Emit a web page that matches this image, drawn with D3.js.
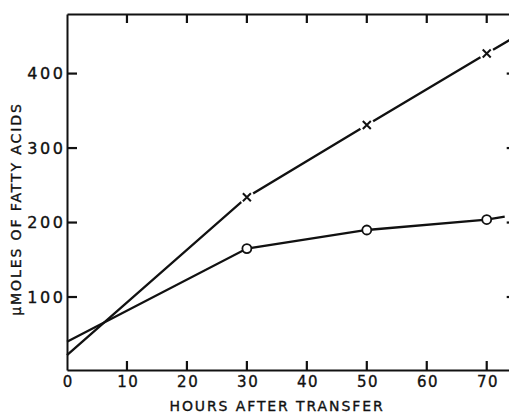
<!DOCTYPE html>
<html>
<head>
<meta charset="utf-8">
<script src="https://cdn.jsdelivr.net/npm/d3@7/dist/d3.min.js"></script>
<style>
  html, body { margin: 0; padding: 0; background: #fff; }
  svg { display: block; }
  text { font-family: "DejaVu Sans", sans-serif; fill: #111; stroke: #111; stroke-width: 0.35px; }
</style>
</head>
<body>
<svg id="chart" width="509" height="414"></svg>
<script>
// ---- data ----
const xTicks = [0, 10, 20, 30, 40, 50, 60, 70];
const yTicks = [100, 200, 300, 400];

const crossLineHours  = [0, 30, 50, 70, 74];
const crossLineValues = [22, 234, 331, 427, 446];
const circleLineHours  = [0, 30, 50, 70, 73];
const circleLineValues = [40, 165, 190, 204, 208];

const markerHours = [30, 50, 70];
const crossMarkerValues  = [234, 331, 427];
const circleMarkerValues = [165, 190, 204];

const xTitle = "HOURS AFTER TRANSFER";
const yTitle = "\u03bcMOLES OF FATTY ACIDS";

// ---- layout ----
const svg = d3.select("#chart");
const ink = "#111";

const xScale = d3.scaleLinear().domain([0, 75]).range([67, 516.7]);
const yScale = d3.scaleLinear().domain([2, 480]).range([370, 14]);

const xLeft = xScale.range()[0], xRight = xScale.range()[1];
const yBottom = yScale.range()[0], yTop = yScale.range()[1];

// inward tick marks, drawn as thin rectangles
const tickW = 2.2, tickL = 9;
const tickG = svg.append("g").attr("fill", ink);
tickG.selectAll("rect.xb").data(xTicks.filter(d => d > 0)).join("rect").attr("class", "xb")
  .attr("x", d => xScale(d) - tickW / 2).attr("y", yBottom - tickL).attr("width", tickW).attr("height", tickL);
tickG.selectAll("rect.xt").data(xTicks.filter(d => d > 0)).join("rect").attr("class", "xt")
  .attr("x", d => xScale(d) - tickW / 2).attr("y", yTop).attr("width", tickW).attr("height", tickL);
tickG.selectAll("rect.yl").data(yTicks).join("rect").attr("class", "yl")
  .attr("x", xLeft).attr("y", d => yScale(d) - tickW / 2).attr("width", tickL + 1).attr("height", tickW);
tickG.selectAll("rect.yr").data(yTicks).join("rect").attr("class", "yr")
  .attr("x", xRight - tickL - 1).attr("y", d => yScale(d) - tickW / 2).attr("width", tickL + 1).attr("height", tickW);

function styleAxis(g) {
  g.selectAll("path.domain").attr("stroke", ink).attr("stroke-width", 2);
  g.selectAll(".tick line").remove();
}

// axes (frame lines + labels)
const axBottom = svg.append("g").attr("transform", `translate(0,${yBottom})`)
  .call(d3.axisBottom(xScale).tickValues(xTicks).tickSize(0).tickPadding(6).tickFormat(d3.format("d")));
axBottom.call(styleAxis);
axBottom.selectAll("text").attr("font-size", 15).attr("letter-spacing", 1.5).attr("dx", 0.75)
  .style("font-family", "DejaVu Sans").attr("fill", ink);

const axTop = svg.append("g").attr("transform", `translate(0,${yTop})`)
  .call(d3.axisTop(xScale).tickValues([]).tickSize(0));
axTop.call(styleAxis);

const axLeft = svg.append("g").attr("transform", `translate(${xLeft},0)`)
  .call(d3.axisLeft(yScale).tickValues(yTicks).tickSize(0).tickPadding(4).tickFormat(d3.format("d")));
axLeft.call(styleAxis);
axLeft.selectAll("text").attr("font-size", 16).attr("letter-spacing", 2.6).attr("dx", 2.6)
  .style("font-family", "DejaVu Sans").attr("fill", ink);

const axRight = svg.append("g").attr("transform", `translate(${xRight},0)`)
  .call(d3.axisRight(yScale).tickValues([]).tickSize(0));
axRight.call(styleAxis);

// lines
const line = d3.line().x(d => xScale(d[0])).y(d => yScale(d[1]));

svg.append("path")
  .datum(d3.zip(crossLineHours, crossLineValues))
  .attr("d", line).attr("fill", "none").attr("stroke", ink).attr("stroke-width", 2.3);

svg.append("path")
  .datum(d3.zip(circleLineHours, circleLineValues))
  .attr("d", line).attr("fill", "none").attr("stroke", ink).attr("stroke-width", 2.3);

// cross markers: white gap then ×
const crosses = svg.append("g").selectAll("g")
  .data(d3.zip(markerHours, crossMarkerValues)).join("g")
  .attr("transform", d => `translate(${xScale(d[0])},${yScale(d[1])})`);
crosses.append("circle").attr("r", 7.5).attr("fill", "#fff");
crosses.append("path").attr("d", "M-4,-4L4,4M-4,4L4,-4")
  .attr("stroke", ink).attr("stroke-width", 2).attr("fill", "none");

// circle markers
svg.append("g").selectAll("circle")
  .data(d3.zip(markerHours, circleMarkerValues)).join("circle")
  .attr("cx", d => xScale(d[0])).attr("cy", d => yScale(d[1])).attr("r", 4.5)
  .attr("fill", "#fff").attr("stroke", ink).attr("stroke-width", 1.8);

// titles
svg.append("text")
  .attr("x", 277).attr("y", 411)
  .attr("text-anchor", "middle").attr("font-size", 14).attr("letter-spacing", 1.9)
  .text(xTitle);

svg.append("text")
  .attr("transform", "translate(21,209) rotate(-90)")
  .attr("text-anchor", "middle").attr("font-size", 14).attr("letter-spacing", 1.9)
  .text(yTitle);
</script>
</body>
</html>
